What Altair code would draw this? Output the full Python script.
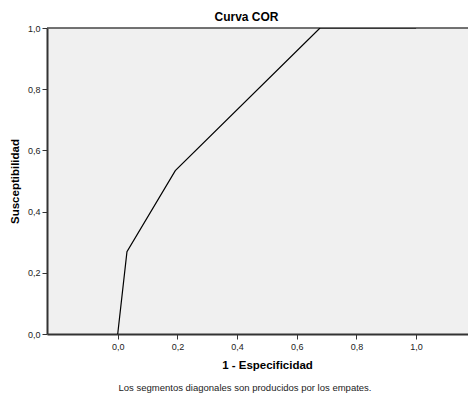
import altair as alt
import pandas as pd

fpr = [0.0, 0.031, 0.193, 0.678, 1.0]
tpr = [0.0, 0.269, 0.534, 1.0, 1.0]
ticks = [0.0, 0.2, 0.4, 0.6, 0.8, 1.0]
title_text = "Curva COR"
x_title = "1 - Especificidad"
y_title = "Susceptibilidad"
footnote = "Los segmentos diagonales son producidos por los empates."

df = pd.DataFrame({"fpr": fpr, "tpr": tpr, "order": list(range(len(fpr)))})

W, H = 421, 306
FONT = "Liberation Sans"
label_expr = "replace(format(datum.value, '.1f'), '.', ',')"

x_scale = alt.Scale(domain=[-0.237, 1.174], nice=False, zero=False)
y_scale = alt.Scale(domain=[0, 1], nice=False)

line = alt.Chart(df).mark_line(color="black", strokeWidth=1.2, clip=True).encode(
    x=alt.X("fpr:Q", scale=x_scale, axis=alt.Axis(
        values=ticks, labelExpr=label_expr, title=x_title, grid=False,
        domainColor="#333333", domainWidth=2, tickColor="#333333", tickSize=5,
        labelFont=FONT, labelFontSize=9, labelColor="#222222", labelPadding=3,
        titleFont=FONT, titleFontSize=11.5, titleFontWeight="bold", titleColor="black",
        titlePadding=8, titleX=220)),
    y=alt.Y("tpr:Q", scale=y_scale, axis=alt.Axis(
        values=ticks, labelExpr=label_expr, title=y_title, grid=False,
        domainColor="#333333", domainWidth=2, tickColor="#333333", tickSize=5,
        labelFont=FONT, labelFontSize=9, labelColor="#222222", labelPadding=2,
        titleFont=FONT, titleFontSize=11.5, titleFontWeight="bold", titleColor="black",
        titlePadding=7)),
    order="order:Q",
)

top = alt.Chart(pd.DataFrame({"a": [0]})).mark_rule(color="#444444", strokeWidth=1.5).encode(
    x=alt.value(0), x2=alt.value(W), y=alt.value(0))

foot = alt.Chart(pd.DataFrame({"t": [footnote]})).mark_text(
    font=FONT, fontSize=9.5, color="#222222", align="center", baseline="middle"
).encode(x=alt.value(245 - 47), y=alt.value(388 - 28), text="t:N")

chart = alt.layer(top, line, foot).properties(
    width=W, height=H,
    background="white",
    title=alt.TitleParams(title_text, font=FONT, fontSize=12, fontWeight="bold",
                          color="black", anchor="middle", dx=-11, dy=5, offset=5),
    autosize=alt.AutoSizeParams(type="none"),
    padding={"left": 39, "top": 20, "right": 0, "bottom": 60},
).configure_view(fill="#F0F0F0", stroke=None)

chart.save("out.html", embed_options={"renderer": "svg", "actions": False})
